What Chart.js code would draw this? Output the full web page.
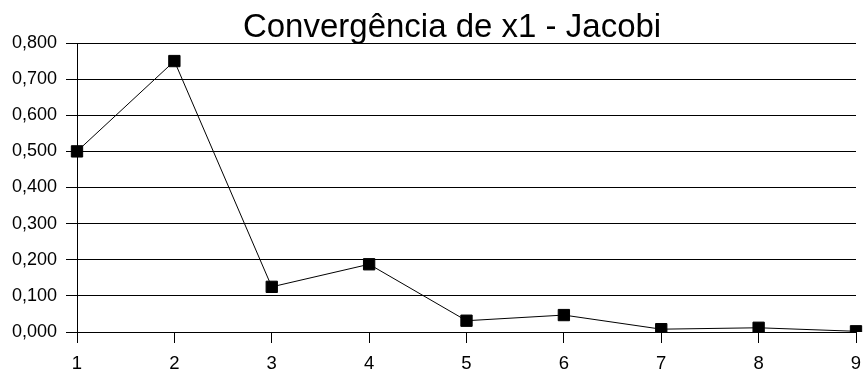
<!DOCTYPE html>
<html>
<head>
<meta charset="utf-8">
<script src="https://cdn.jsdelivr.net/npm/chart.js@4"></script>
<style>
  html, body { margin: 0; padding: 0; background: #fff; }
  #wrap { width: 866px; height: 369px; }
</style>
</head>
<body>
<div id="wrap"><canvas id="c" width="866" height="369"></canvas></div>
<script>
// Iterations of the Jacobi method and the value of x1 at each one
const iteracoes = ['1', '2', '3', '4', '5', '6', '7', '8', '9'];
const valoresX1 = [0.5, 0.75, 0.125, 0.1875, 0.03125, 0.046875, 0.0078125, 0.01171875, 0.001953125];
const tituloGrafico = 'Convergência de x1 - Jacobi';

const fonte = "'Liberation Sans', Arial, sans-serif";

// Title drawn by hand so it can sit slightly right of the canvas centre
const tituloPlugin = {
  id: 'tituloPlugin',
  afterDraw(chart) {
    const ctx = chart.ctx;
    ctx.save();
    ctx.fillStyle = '#000';
    ctx.font = "33px " + fonte;
    ctx.textAlign = 'center';
    ctx.textBaseline = 'alphabetic';
    ctx.fillText(tituloGrafico, chart.width * 0.522, 37);
    ctx.restore();
  }
};

new Chart(document.getElementById('c'), {
  type: 'line',
  data: {
    labels: iteracoes,
    datasets: [{
      data: valoresX1,
      borderColor: '#000',
      borderWidth: 1,
      backgroundColor: '#000',
      pointStyle: 'rect',
      pointRadius: 8,
      pointBorderWidth: 1,
      pointBorderColor: '#000',
      pointBackgroundColor: '#000',
      tension: 0
    }]
  },
  options: {
    responsive: false,
    animation: false,
    devicePixelRatio: 1,
    layout: { padding: { left: 0, right: 10, top: 43, bottom: 0 } },
    plugins: {
      legend: { display: false },
      tooltip: { enabled: false },
      title: { display: false }
    },
    scales: {
      x: {
        type: 'category',
        offset: false,
        afterFit: (s) => { s.height = 37; s.paddingLeft = 0; s.paddingRight = 0; },
        grid: {
          display: true,
          drawOnChartArea: false,
          drawTicks: true,
          tickLength: 11,
          color: '#000',
          lineWidth: 1
        },
        border: { display: true, color: '#000', width: 1 },
        ticks: {
          color: '#000',
          font: { family: fonte, size: 18.5 },
          padding: 10,
          maxRotation: 0,
          autoSkip: false
        }
      },
      y: {
        min: 0,
        max: 0.8,
        afterFit: (s) => { s.width = 77; },
        grid: {
          color: '#000',
          lineWidth: 1,
          drawTicks: true,
          tickLength: 11
        },
        border: { display: true, color: '#000', width: 1 },
        ticks: {
          stepSize: 0.1,
          color: '#000',
          font: { family: fonte, size: 18 },
          padding: 9,
          callback: (v) => Number(v).toFixed(3).replace('.', ',')
        }
      }
    }
  },
  plugins: [tituloPlugin]
});
</script>
</body>
</html>
